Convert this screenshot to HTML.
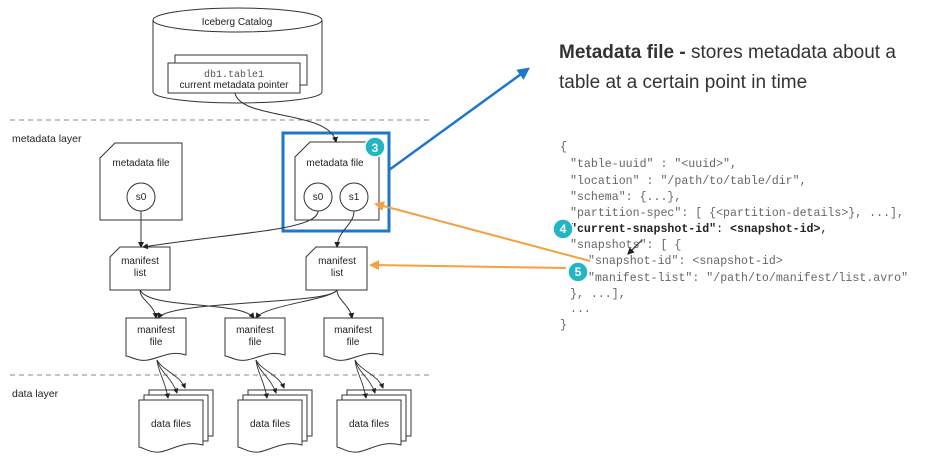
<!DOCTYPE html>
<html><head><style>
body{margin:0;background:#fff;}
svg{display:block;}
.t{font-family:"Liberation Sans",sans-serif;font-size:10px;fill:#222;text-anchor:middle;}
.c{font-family:"Liberation Mono",monospace;font-size:11.6px;fill:#666;}
</style></head><body>
<svg width="926" height="457" viewBox="0 0 926 457" xmlns="http://www.w3.org/2000/svg">
<defs>
<marker id="ab" markerWidth="6" markerHeight="6" refX="5" refY="3" orient="auto"><path d="M0,0 L6,3 L0,6 z" fill="#222"/></marker>
<marker id="ao" markerWidth="5" markerHeight="5" refX="4" refY="2.5" orient="auto"><path d="M0,0 L5,2.5 L0,5 z" fill="#f5a142"/></marker>
<marker id="abl" markerWidth="5" markerHeight="5" refX="4" refY="2.5" orient="auto"><path d="M0,0 L5,2.5 L0,5 z" fill="#1f77c8"/></marker>
</defs>
<g fill="#fff" stroke="#333" stroke-width="1">
<path d="M153,20 L153,92 A84.5,11 0 0 0 322,92 L322,20"/>
<ellipse cx="237.5" cy="20" rx="84.5" ry="12"/>
<rect x="175" y="55" width="132" height="30"/>
<rect x="168" y="63" width="132" height="30"/>
</g>
<text class="t" x="237" y="25">Iceberg Catalog</text>
<text x="234" y="77" style="font-family:'Liberation Mono',monospace;font-size:10px;fill:#555;text-anchor:middle">db1.table1</text>
<text class="t" x="234" y="88">current metadata pointer</text>
<line x1="10" y1="120" x2="432" y2="120" stroke="#888" stroke-dasharray="5,4"/>
<line x1="10" y1="375" x2="432" y2="375" stroke="#888" stroke-dasharray="5,4"/>
<text x="12" y="142" style="font-family:'Liberation Sans',sans-serif;font-size:10.5px;fill:#222">metadata layer</text>
<text x="12" y="397" style="font-family:'Liberation Sans',sans-serif;font-size:10.5px;fill:#222">data layer</text>
<g fill="#fff" stroke="#333" stroke-width="1">
<path d="M115,143 L182,143 L182,220 L100,220 L100,158 Z"/>
<circle cx="141" cy="197" r="14"/>
<path d="M310,142 L379,142 L379,220 L295,220 L295,157 Z"/>
<circle cx="318" cy="197" r="14"/>
<circle cx="354" cy="197" r="14"/>
<path d="M120,247 L170,247 L170,290 L110,290 L110,257 Z"/>
<path d="M316,247 L367,247 L367,290 L306,290 L306,257 Z"/>
</g>
<rect x="283" y="133" width="106" height="98" fill="none" stroke="#1f77c8" stroke-width="3"/>
<text class="t" x="141" y="166">metadata file</text>
<text class="t" x="141" y="200">s0</text>
<text class="t" x="335" y="166">metadata file</text>
<text class="t" x="318" y="200">s0</text>
<text class="t" x="354" y="200">s1</text>
<text class="t" x="140" y="264">manifest</text><text class="t" x="140" y="276">list</text>
<text class="t" x="337" y="264">manifest</text><text class="t" x="337" y="276">list</text>
<g fill="#fff" stroke="#333">
<path d="M126,318 L186,318 L186,355 C170,350 160,358 148,360 C138,362 130,356 126,356 Z"/>
<path d="M225,318 L285,318 L285,355 C269,350 259,358 247,360 C237,362 229,356 225,356 Z"/>
<path d="M324,318 L383,318 L383,355 C367,350 357,358 345,360 C335,362 328,356 324,356 Z"/>
</g>
<text class="t" x="156" y="333">manifest</text><text class="t" x="156" y="345">file</text>
<text class="t" x="255" y="333">manifest</text><text class="t" x="255" y="345">file</text>
<text class="t" x="353" y="333">manifest</text><text class="t" x="353" y="345">file</text>
<g fill="#fff" stroke="#333">
<g id="df">
<path d="M149,390 L213,390 L213,436 L149,436 Z"/>
<path d="M144,395 L208,395 L208,441 L144,441 Z"/>
<path d="M139,400 L203,400 L203,445 C185,440 172,450 160,452 C150,453 144,448 139,447 Z"/>
</g>
<use href="#df" x="99"/>
<use href="#df" x="198"/>
</g>
<text class="t" x="171" y="427">data files</text>
<text class="t" x="270" y="427">data files</text>
<text class="t" x="369" y="427">data files</text>
<g fill="none" stroke="#333" stroke-width="1">
<path d="M235,93 C240,120 330,110 336,142" marker-end="url(#ab)"/>
<path d="M141,211 L141,247" marker-end="url(#ab)"/>
<path d="M318,211 C318,230 240,232 143,247" marker-end="url(#ab)"/>
<path d="M354,211 C354,225 338,230 337,247" marker-end="url(#ab)"/>
<path d="M140,290 C140,300 155,305 156,318" marker-end="url(#ab)"/>
<path d="M140,290 C150,310 240,300 254,318" marker-end="url(#ab)"/>
<path d="M337,290 C330,305 170,300 158,318" marker-end="url(#ab)"/>
<path d="M337,290 C330,300 265,305 256,318" marker-end="url(#ab)"/>
<path d="M337,290 C337,300 350,305 352,318" marker-end="url(#ab)"/>
</g>
<g fill="none" stroke="#333" stroke-width="0.9">
<g id="fan">
<path d="M157,360 C158,372 165,380 168,398" marker-end="url(#ab)"/>
<path d="M157,360 C160,372 172,378 177,393" marker-end="url(#ab)"/>
<path d="M157,360 C162,370 180,375 185,388" marker-end="url(#ab)"/>
</g>
<use href="#fan" x="99"/>
<use href="#fan" x="198"/>
</g>
<circle cx="375" cy="147" r="10" fill="#22b5c3" stroke="#fff" stroke-width="1.5"/>
<text x="375" y="152" style="font-family:'Liberation Sans',sans-serif;font-size:12px;font-weight:bold;fill:#fff;text-anchor:middle">3</text>
<line x1="389" y1="170" x2="528" y2="69" stroke="#1f77c8" stroke-width="2.5" marker-end="url(#abl)"/>
<text x="559" y="58" style="font-family:'Liberation Sans','DejaVu Sans',sans-serif;font-size:19px;fill:#333"><tspan font-weight="bold">Metadata file - </tspan>stores metadata about a</text>
<text x="559" y="88" style="font-family:'Liberation Sans','DejaVu Sans',sans-serif;font-size:19px;fill:#333">table at a certain point in time</text>
<g class="c">
<text x="560" y="150">{</text>
<text x="570" y="167">"table-uuid" : "&lt;uuid&gt;",</text>
<text x="570" y="184">"location" : "/path/to/table/dir",</text>
<text x="570" y="200">"schema": {...},</text>
<text x="570" y="216">"partition-spec": [ {&lt;partition-details&gt;}, ...],</text>
<text x="570" y="232" style="fill:#222"><tspan font-weight="bold">"current-snapshot-id"</tspan>: <tspan font-weight="bold">&lt;snapshot-id&gt;</tspan>,</text>
<text x="570" y="248">"snapshots": [ {</text>
<text x="588" y="264">"snapshot-id": &lt;snapshot-id&gt;</text>
<text x="588" y="281">"manifest-list": "/path/to/manifest/list.avro"</text>
<text x="570" y="297">}, ...],</text>
<text x="570" y="312">...</text>
<text x="560" y="328">}</text>
</g>
<line x1="642" y1="240" x2="628" y2="254" stroke="#333" stroke-width="1.2" marker-end="url(#ab)"/>
<line x1="590" y1="261" x2="376" y2="204" stroke="#f5a142" stroke-width="2" marker-end="url(#ao)"/>
<line x1="566" y1="268" x2="371" y2="265" stroke="#f5a142" stroke-width="2" marker-end="url(#ao)"/>
<circle cx="563" cy="229" r="10" fill="#22b5c3" stroke="#fff" stroke-width="1.5"/>
<text x="563" y="233" style="font-family:'Liberation Sans',sans-serif;font-size:12px;font-weight:bold;fill:#fff;text-anchor:middle">4</text>
<circle cx="578" cy="272" r="10" fill="#22b5c3" stroke="#fff" stroke-width="1.5"/>
<text x="578" y="276" style="font-family:'Liberation Sans',sans-serif;font-size:12px;font-weight:bold;fill:#fff;text-anchor:middle">5</text>
</svg>
</body></html>
